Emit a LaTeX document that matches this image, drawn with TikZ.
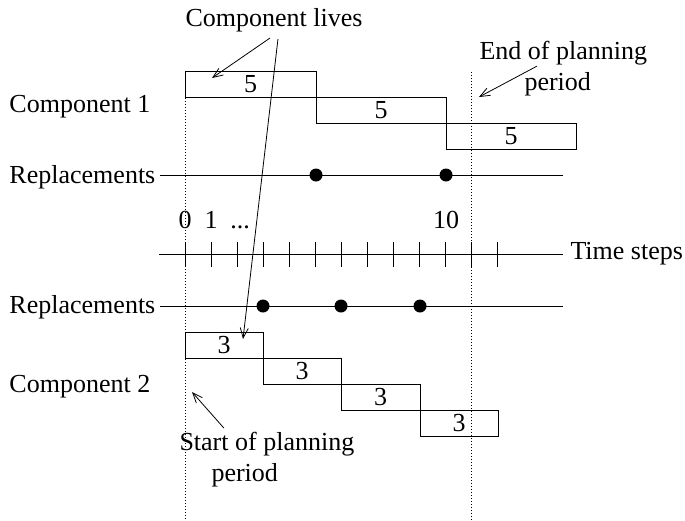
\documentclass[tikz,border=0pt]{standalone}
\usepackage{fontspec}
\setmainfont{Liberation Serif}
\usetikzlibrary{arrows.meta}
\tikzset{
  lifebox/.style={draw, line width=0.5pt, minimum height=13pt},
  repdot/.style={circle, fill, minimum size=6.5pt},
  plan/.style={line width=0.5pt, dash pattern=on 0.5pt off 1pt},
  note/.style={line width=0.4pt, -{Straight Barb[length=5pt,width=4pt]}}
}
\begin{document}
\begin{tikzpicture}[x=0.5pt, y=-0.5pt, line width=0.5pt,
    every node/.style={font=\fontsize{13}{15}\selectfont, inner sep=0pt}]
  \useasboundingbox (0,0) rectangle (685,520);

  % planning period borders
  \coordinate (ps) at (185,71);
  \coordinate (pe) at (471,72);
  \draw[plan] (ps) -- (ps |- 0,520);
  \draw[plan] (pe) -- (pe |- 0,520);

  % row labels
  \node[anchor=base west] (comp1) at (9,112) {Component 1};
  \node[anchor=base west] (repA) at (9,183) {Replacements};
  \node[anchor=base west] (repB) at (9,313) {Replacements};
  \node[anchor=base west] (comp2) at (9,392) {Component 2};
  \node[anchor=base west] (steps) at (570,259) {Time steps};

  % time axis
  \coordinate (ax0) at (159,254);
  \draw (ax0) -- ([xshift=-3.5pt]steps.west |- ax0);
  \foreach \i in {0,...,12}
    \draw ({185+26*\i},242) -- ++(0,25);
  \node[anchor=base] (t0) at (185,228) {0};
  \node[anchor=base] (t1) at (211,228) {1};
  \node[anchor=base] (tdots) at (240,228) {...};
  \node[anchor=base] (t10) at (446,228) {10};

  % replacement lines
  \coordinate (repAend) at (563,175);
  \coordinate (repBend) at (563,306);
  \draw ([xshift=2pt]repA.east |- repAend) -- (repAend);
  \draw ([xshift=2pt]repB.east |- repBend) -- (repBend);
  \node[repdot] (ra1) at (316,175) {};
  \node[repdot] (ra2) at (446,175) {};
  \node[repdot] (rb1) at (263,306) {};
  \node[repdot] (rb2) at (341,306) {};
  \node[repdot] (rb3) at (420,306) {};

  % component lives
  \node[lifebox, minimum width=65.5pt] (a1) at (250.5,84) {5};
  \node[lifebox, minimum width=65pt] (a2) at (381,110) {5};
  \node[lifebox, minimum width=65pt] (a3) at (511,136) {5};
  \node[lifebox, minimum width=39pt] (b1) at (224,345) {3};
  \node[lifebox, minimum width=39pt] (b2) at (302,371) {3};
  \node[lifebox, minimum width=39.5pt] (b3) at (380.5,397) {3};
  \node[lifebox, minimum width=39pt] (b4) at (459,423) {3};

  % notes
  \node[anchor=base west] (lives) at (185,26) {Component lives};
  \node[anchor=base west] (endtxt) at (479,59) {End of planning};
  \node[anchor=base west] (endtxt2) at (524,90) {period};
  \node[anchor=base west] (starttxt) at (179,450) {Start of planning};
  \node[anchor=base west] (starttxt2) at (211,481) {period};

  \coordinate (livesA) at (212,78);
  \coordinate (livesB) at (243,339);
  \coordinate (endtip) at (479,97);
  \coordinate (starttip) at (192,392);
  \draw[note] ([xshift=-2pt,yshift=-3pt]lives.south) -- (livesA);
  \draw[note] ([xshift=2pt,yshift=-3.5pt]lives.south) -- (livesB);
  \draw[note] ([xshift=29pt,yshift=-0.5pt]endtxt.south west) -- (endtip);
  \draw[note] ([xshift=22.5pt,yshift=1.5pt]starttxt.north west) -- (starttip);
\end{tikzpicture}
\end{document}
